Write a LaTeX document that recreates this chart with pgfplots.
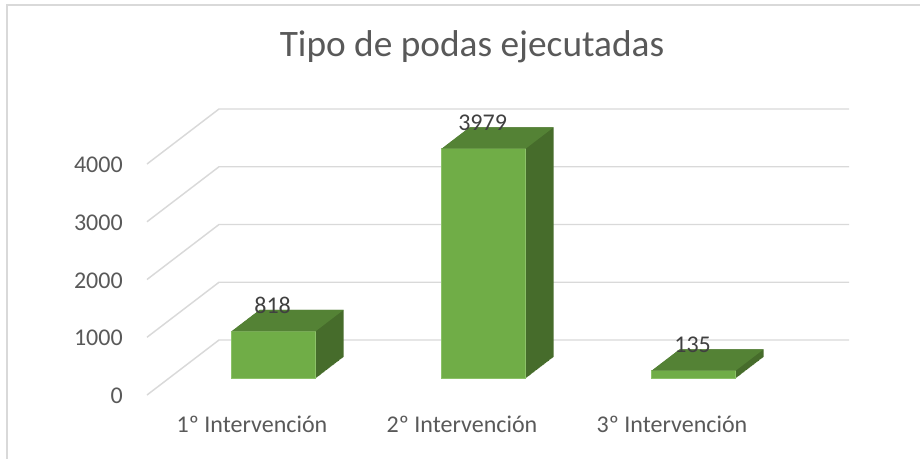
\documentclass[border=0pt]{standalone}
\usepackage{fontspec}
\setmainfont{Carlito}
\usepackage{pgfplots}
\usepackage{pgfplotstable}
\pgfplotsset{compat=1.18}

\definecolor{frontcol}{HTML}{70AD47}
\definecolor{frontedge}{HTML}{8CC168}
\definecolor{topcol}{HTML}{548235}
\definecolor{sidecol}{HTML}{466C2B}
\definecolor{gridcol}{HTML}{D9D9D9}
\definecolor{txt}{HTML}{595959}
\definecolor{lbl}{HTML}{404040}

% top face of a column, relative to (category, value)
\pgfdeclareplotmark{topface}{%
  \pgfpathmoveto{\pgfqpoint{-15.3pt}{12.375pt}}%
  \pgfpathlineto{\pgfqpoint{47.7pt}{12.375pt}}%
  \pgfpathlineto{\pgfqpoint{68.76pt}{28.465pt}}%
  \pgfpathlineto{\pgfqpoint{5.76pt}{28.465pt}}%
  \pgfpathclose\pgfusepathqfill}

\pgfplotstableread{
x v
1 818
2 3979
3 135
}\podas

\begin{document}
\begin{tikzpicture}
\useasboundingbox (-110.25pt,-47.25pt) rectangle (579.75pt,296.25pt);
\draw[gridcol, line width=1.1pt] (-105pt,-50pt) -- (-105pt,292.5pt) -- (582pt,292.5pt);
\begin{axis}[
    at={(0,0)}, anchor=south west,
    scale only axis,
    width=472.5pt, height=173.25pt,
    xmin=0.5, xmax=3.5, ymin=0, ymax=4000,
    clip=false,
    axis line style={draw=none},
    major tick length=0pt,
    tick style={draw=none},
    xtick={1,2,3},
    xticklabels={1º Intervención, 2º Intervención, 3º Intervención},
    ytick={0,1000,2000,3000,4000},
    /pgf/number format/1000 sep={},
    /pgf/number format/assume math mode=true,
    tick label style={font=\fontsize{18}{22}\selectfont, text=txt, inner sep=0pt},
    xticklabel style={anchor=base, yshift=-27.75pt},
    yticklabel style={anchor=base east, xshift=-18pt, yshift=-6.5pt},
    title={Tipo de podas ejecutadas},
    title style={at={(0.5159,1.4286)}, anchor=base, inner sep=0pt,
                 font=\fontsize{28}{34}\selectfont, text=txt},
]
% back wall and side wall grid
\pgfplotsinvokeforeach{0,1000,2000,3000,4000}{
  \draw[gridcol, line width=1.1pt] (axis cs:0.5,#1) -- ++(54pt,41.25pt)
     -- ([shift={(54pt,41.25pt)}]axis cs:3.5,#1);
}
% depth of the columns
\pgfplotsinvokeforeach{0,...,40}{
  \addplot[ybar, bar width=0.4, bar shift=0pt, fill=sidecol, draw=none,
    xshift=16.2pt+#1*0.5265pt, yshift=12.375pt+#1*0.40225pt]
    table[x=x, y=v] {\podas};
}
% front faces
\addplot[ybar, bar width=0.4, bar shift=0pt, fill=frontcol, draw=frontedge,
  line width=0.4pt, xshift=16.2pt, yshift=12.375pt]
  table[x=x, y=v] {\podas};
% top faces and value labels
\addplot[only marks, mark=topface, mark options={fill=topcol, draw=none},
  point meta=explicit symbolic,
  nodes near coords,
  every node near coord/.append style={anchor=base, inner sep=0pt,
     xshift=15.45pt, yshift=25.8pt, font=\fontsize{18}{22}\selectfont, text=lbl}]
  table[x=x, y=v, meta=v] {\podas};
\end{axis}
\end{tikzpicture}
\end{document}
